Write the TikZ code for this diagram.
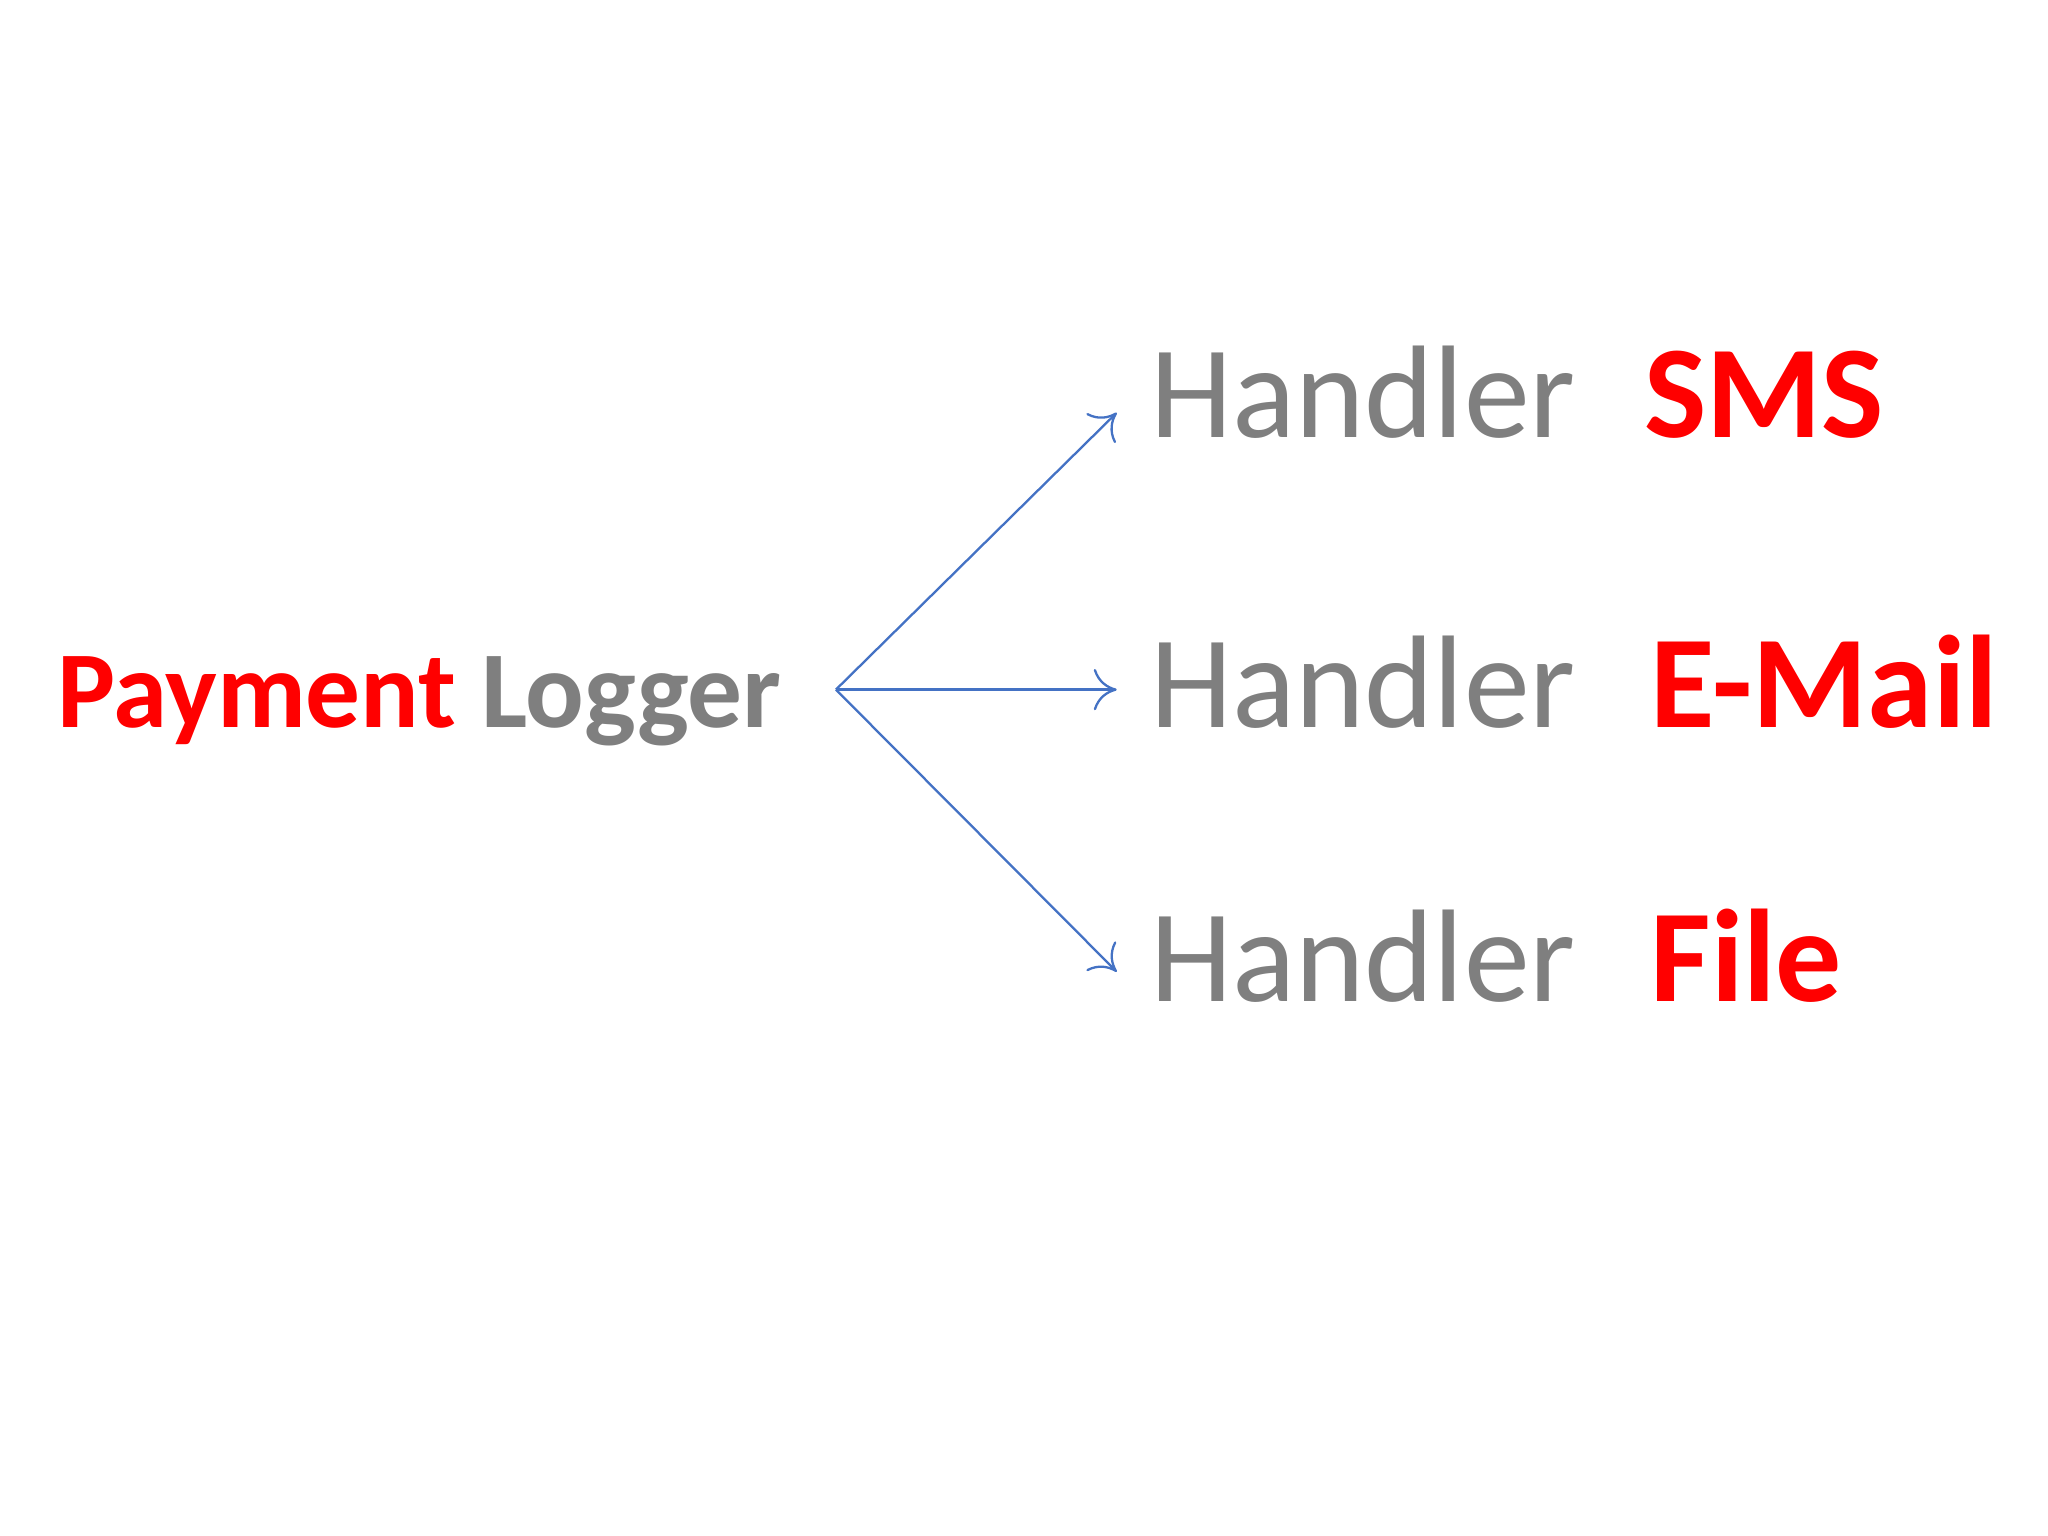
\documentclass[tikz,border=0pt]{standalone}
\usepackage{fontspec}
\usetikzlibrary{arrows.meta}
\setmainfont{Carlito}
\definecolor{gr}{RGB}{127,127,127}
\definecolor{rd}{RGB}{255,0,0}
\definecolor{bl}{RGB}{68,114,196}
\begin{document}
\begin{tikzpicture}[x=0.01cm,y=-0.01cm,
  hand/.style={anchor=base west,inner sep=0pt,text=gr,font=\fontsize{28.7}{30}\selectfont},
  red/.style={anchor=base west,inner sep=0pt,text=rd,font=\fontsize{28.7}{30}\selectfont\bfseries},
  conn/.style={draw=bl,line width=0.5pt,-{To[length=5pt,width=9pt]}}]
\useasboundingbox (0,0) rectangle (1568,1176);
\node[anchor=base west,inner sep=0pt,font=\fontsize{23.8}{26}\selectfont\bfseries] (pl) at (43,557) {\textcolor{rd}{Payment} \textcolor{gr}{Logger}};
\coordinate (s) at (640,528);
\node[hand] (h1) at (880,335) {Handler};
\node[hand] (h2) at (880,557) {Handler};
\node[hand] (h3) at (880,767) {Handler};
\node[red] (r1) at (1258,335) {SMS};
\node[red] (r2) at (1263,557) {E-Mail};
\node[red] (r3) at (1263,767) {File};
\coordinate (e1) at (855,316);
\coordinate (e2) at (855,528);
\coordinate (e3) at (855,744);
\draw[conn] (s) -- (e1);
\draw[conn] (s) -- (e2);
\draw[conn] (s) -- (e3);
\end{tikzpicture}
\end{document}
